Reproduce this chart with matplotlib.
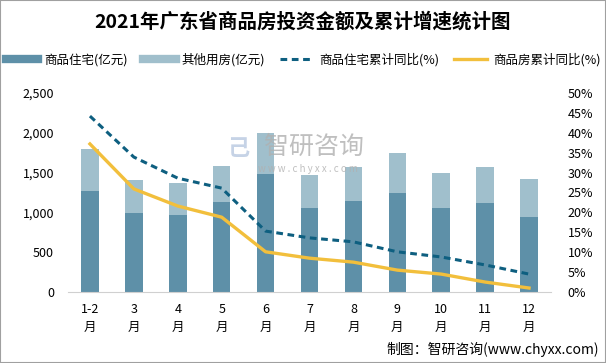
import matplotlib
matplotlib.use("Agg")
import matplotlib.pyplot as plt
from matplotlib.lines import Line2D
from matplotlib.patches import Rectangle
import numpy as np

plt.rcParams["font.family"] = ["Noto Sans CJK SC", "DejaVu Sans"]

months = ["1-2\n月", "3\n月", "4\n月", "5\n月", "6\n月", "7\n月",
          "8\n月", "9\n月", "10\n月", "11\n月", "12\n月"]
residential = [1268, 991, 966, 1130, 1481, 1054, 1142, 1242, 1054, 1117, 941]
other = [527, 415, 402, 451, 514, 414, 427, 502, 439, 452, 477]
resid_yoy = [44.2, 33.9, 28.6, 26.1, 15.3, 13.6, 12.6, 10.1, 8.8, 6.8, 4.5]
total_yoy = [37.2, 25.9, 21.6, 18.8, 10.1, 8.5, 7.5, 5.5, 4.5, 2.5, 1.0]

c_dark = "#5e90a8"
c_light = "#a0bfcc"
c_dash = "#0e5f80"
c_yellow = "#f2bf3c"

fig = plt.figure(figsize=(6.06, 3.63), dpi=100)
fig.patches.append(Rectangle((0, 0), 1, 1, transform=fig.transFigure,
                             fill=False, edgecolor="#a0a0a0", lw=1.5))
ax = fig.add_axes([0.1122, 0.1956, 0.7970, 0.5482])
x = np.arange(len(months))
ax.bar(x, residential, width=0.4, color=c_dark, zorder=2)
ax.bar(x, other, width=0.4, bottom=residential, color=c_light, zorder=2)
ax.set_xlim(-0.5, len(months) - 0.5)
ax.set_ylim(0, 2500)
ax.set_yticks(np.arange(0, 2501, 500))
ax.set_yticklabels([f"{v:,}" for v in range(0, 2501, 500)])
ax.set_xticks(x)
ax.set_xticklabels(months, fontsize=9.5, linespacing=1.5)
for s in ["top", "left", "right"]:
    ax.spines[s].set_visible(False)
ax.spines["bottom"].set_color("#d0d0d0")
ax.tick_params(axis="both", length=0, labelsize=9)
ax.tick_params(axis="y", pad=10)
ax.tick_params(axis="x", pad=8)

ax2 = ax.twinx()
ax2.plot(x, resid_yoy, color=c_dash, lw=2.2, dashes=(2.2, 1.5), zorder=3)
ax2.plot(x, total_yoy, color=c_yellow, lw=2.4, zorder=3)
ax2.set_ylim(0, 50)
ax2.set_yticks(np.arange(0, 51, 5))
ax2.set_yticklabels([f"{v}%" for v in range(0, 51, 5)])
ax2.tick_params(axis="y", length=0, labelsize=9, pad=12)
for s in ["top", "left", "right", "bottom"]:
    ax2.spines[s].set_visible(False)

# watermark
fig.text(0.518, 0.595, "智研咨询", fontsize=18, color="#b0b0b0", alpha=0.8,
         ha="center", va="center")
fig.text(0.508, 0.535, "w w w . c h y x x . c o m", fontsize=7, color="#b0b0b0",
         alpha=0.8, ha="center", va="center")
fig.text(0.393, 0.59, "己", fontsize=16, color="#b8c8e0", alpha=0.8,
         ha="center", va="center", fontweight="bold")

fig.text(0.5, 0.94, "2021年广东省商品房投资金额及累计增速统计图", fontsize=14,
         fontweight="bold", ha="center", va="center")

handles = [Line2D([], [], color=c_dark, lw=6),
           Line2D([], [], color=c_light, lw=6),
           Line2D([], [], color=c_dash, lw=2.2, dashes=(2.2, 1.5)),
           Line2D([], [], color=c_yellow, lw=2.4)]
labels = ["商品住宅(亿元)", "其他用房(亿元)", "商品住宅累计同比(%)", "商品房累计同比(%)"]
fig.legend(handles, labels, loc="center", bbox_to_anchor=(0.5, 0.835), ncol=4,
           frameon=False, fontsize=9, handlelength=2.6, columnspacing=1.2,
           handletextpad=0.5)

fig.text(0.988, 0.036, "制图：智研咨询(www.chyxx.com)", fontsize=10,
         ha="right", va="center")

fig.savefig("out.png", dpi=100)
